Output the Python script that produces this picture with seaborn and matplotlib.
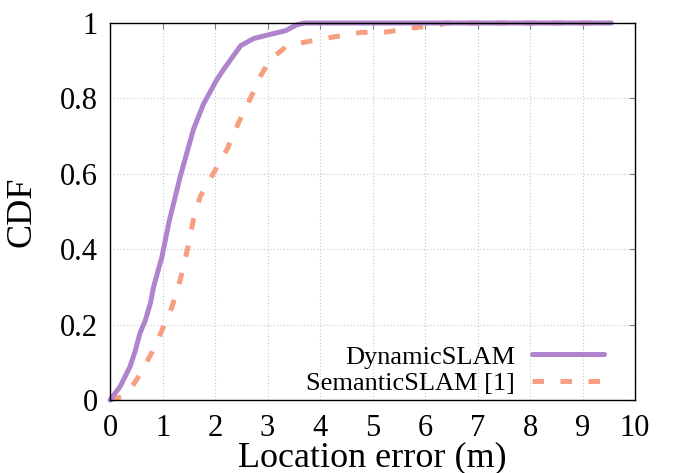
import matplotlib
matplotlib.use("Agg")
import matplotlib.pyplot as plt
import seaborn as sns
import pandas as pd

# Data
dyn_x = [0.0, 0.19, 0.38, 0.48, 0.57, 0.67, 0.77, 0.83, 0.99, 1.12, 1.34, 1.59, 1.78,
         2.04, 2.17, 2.49, 2.74, 3.0, 3.35, 3.55, 3.7, 9.55]
dyn_y = [0.0, 0.035, 0.088, 0.13, 0.177, 0.21, 0.257, 0.30, 0.38, 0.47, 0.594, 0.718, 0.785,
         0.851, 0.878, 0.94, 0.959, 0.968, 0.98, 0.995, 1.0, 1.0]

sem_x = [0.0, 0.25, 0.44, 0.6, 0.8, 0.99, 1.18, 1.34, 1.46, 1.59, 1.72, 1.94, 2.23, 2.45,
         2.68, 2.87, 3.06, 3.38, 4.0, 4.78, 5.26, 5.77, 6.27, 6.4, 9.5]
sem_y = [0.0, 0.01, 0.04, 0.074, 0.127, 0.185, 0.247, 0.32, 0.39, 0.479, 0.54, 0.594, 0.665,
         0.736, 0.802, 0.86, 0.904, 0.94, 0.957, 0.975, 0.976, 0.987, 0.995, 1.0, 1.0]

series_names = ["DynamicSLAM", "SemanticSLAM [1]"]
x_ticks = [0, 1, 2, 3, 4, 5, 6, 7, 8, 9, 10]
y_ticks = [0, 0.2, 0.4, 0.6, 0.8, 1]
y_tick_labels = ["0", "0.2", "0.4", "0.6", "0.8", "1"]

sns.set_style("white")
plt.rcParams["font.family"] = ["Liberation Serif", "DejaVu Serif"]
plt.rcParams["text.color"] = "black"
plt.rcParams["axes.labelcolor"] = "black"

fig = plt.figure(figsize=(6.76, 4.73), dpi=100)
ax = fig.add_axes([110 / 676, 1 - 400 / 473, 525 / 676, 377 / 473])

purple = "#b084cc"
salmon = "#f89f82"

df_sem = pd.DataFrame({"x": sem_x, "y": sem_y})
df_dyn = pd.DataFrame({"x": dyn_x, "y": dyn_y})

sns.lineplot(data=df_sem, x="x", y="y", ax=ax, color=salmon, lw=3.6, sort=False,
             estimator=None, label=series_names[1], zorder=3)
sns.lineplot(data=df_dyn, x="x", y="y", ax=ax, color=purple, lw=3.6, sort=False,
             estimator=None, label=series_names[0], zorder=4)
line_sem = ax.lines[0]
line_sem.set_dashes((2.3, 3.3))
line_sem.set_dash_capstyle("butt")
for ln in ax.lines:
    ln.set_clip_on(False)

ax.set_xlim(0, 10)
ax.set_ylim(0, 1)
ax.set_xticks(x_ticks)
ax.set_xticklabels([str(t) for t in x_ticks])
ax.set_yticks(y_ticks)
ax.set_yticklabels(y_tick_labels)

ax.grid(True, color="#c8c8c8", linestyle=(0, (1, 2)), linewidth=0.8)
ax.tick_params(direction="in", length=4.5, width=0.8, color="#808080",
               labelcolor="black", top=True, right=True, labelsize=22, pad=9)
ax.tick_params(axis="x", pad=10)
for s in ax.spines.values():
    s.set_color("black")
    s.set_linewidth(1.0)
    s.set_zorder(5)

ax.set_xlabel("Location error (m)", fontsize=26, labelpad=-1)
ax.set_ylabel("CDF", fontsize=26, labelpad=15)

handles, labels = ax.get_legend_handles_labels()
order = [labels.index(series_names[0]), labels.index(series_names[1])]
leg = ax.legend([handles[i] for i in order], [labels[i] for i in order],
                loc="lower right", bbox_to_anchor=(0.94, 0.012), frameon=False,
                markerfirst=False, fontsize=19, handlelength=2.7, handletextpad=0.65,
                labelspacing=0.13, borderpad=0.0, borderaxespad=0.0)
for t in leg.get_texts():
    t.set_color("black")

fig.savefig("out.png", dpi=100)
